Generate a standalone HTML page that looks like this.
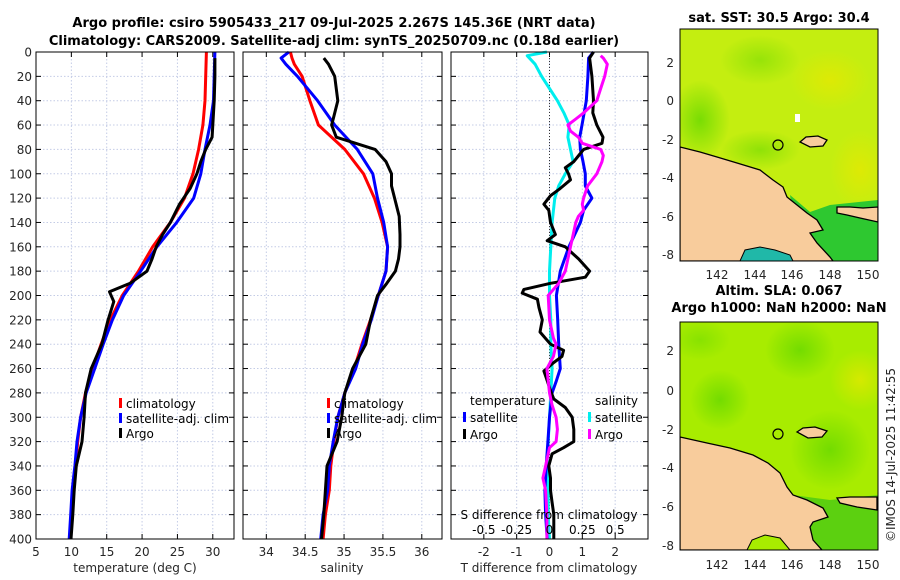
<!DOCTYPE html>
<html><head><meta charset="utf-8"><style>
body{margin:0;background:#fff;}
svg{display:block;font-family:"DejaVu Sans","Liberation Sans",sans-serif;}
.tk{font-size:12px;fill:#262626;}
.tt{font-size:13px;font-weight:bold;fill:#000;}
.lg{font-size:12px;fill:#000;}
</style></head><body>
<svg id="fig" width="900" height="580" viewBox="0 0 900 580">
<defs>
<clipPath id="c1"><rect x="680" y="29" width="198" height="232"/></clipPath>
<clipPath id="c2"><rect x="680" y="322" width="198" height="228"/></clipPath>
<radialGradient id="gA"><stop offset="0" stop-color="#66d800" stop-opacity="0.8"/><stop offset="1" stop-color="#66d800" stop-opacity="0"/></radialGradient>
<radialGradient id="gB"><stop offset="0" stop-color="#e8e800" stop-opacity="0.7"/><stop offset="1" stop-color="#e8e800" stop-opacity="0"/></radialGradient>
</defs>
<text class="tt" x="334" y="27" text-anchor="middle">Argo profile: csiro 5905433_217 09-Jul-2025 2.267S 145.36E (NRT data)</text>
<text class="tt" x="334" y="45" text-anchor="middle">Climatology: CARS2009. Satellite-adj clim: synTS_20250709.nc (0.18d earlier)</text>
<g id="p1"></g>
<g id="p2"></g>
<g id="p3"></g>

<!-- top map -->
<g>
<text class="tt" x="779" y="22" text-anchor="middle">sat. SST: 30.5 Argo: 30.4</text>
<g clip-path="url(#c1)">
<rect x="680" y="29" width="198" height="232" fill="#c4ee10"/>
<ellipse cx="700" cy="120" rx="30" ry="40" fill="url(#gA)"/>
<ellipse cx="760" cy="60" rx="40" ry="25" fill="url(#gA)" opacity="0.6"/>
<ellipse cx="830" cy="80" rx="40" ry="30" fill="url(#gB)"/>
<ellipse cx="860" cy="170" rx="30" ry="40" fill="url(#gB)"/>
<ellipse cx="760" cy="150" rx="40" ry="20" fill="url(#gA)" opacity="0.7"/>
<rect x="795" y="114" width="5" height="8" fill="#fff"/>
<polygon points="790,195 810,212 830,205 878,200 878,261 800,261" fill="#2ec830"/>
<polygon points="680,147 700,152 717,157 737,163 760,170 773,180 783,187 787,197 797,205 807,213 817,220 823,230 810,233 817,243 830,257 833,261 680,261" fill="#f8cc9c" stroke="#000" stroke-width="1.3"/>
<polygon points="740,261 745,250 760,247 775,250 790,255 793,261" fill="#20b8a8" stroke="#000" stroke-width="1"/>
<polygon points="837,207 850,207 863,208 878,207 878,222 860,218 847,215 837,213" fill="#f8cc9c" stroke="#000" stroke-width="1.3"/>
<polygon points="800,142 806,137 818,136 827,140 823,146 810,147" fill="#f8cc9c" stroke="#000" stroke-width="1.3"/>
<circle cx="778" cy="145" r="5" fill="none" stroke="#000" stroke-width="1.2"/>
</g>
<rect x="680" y="29" width="198" height="232" fill="none" stroke="#000" stroke-width="1"/>
<g class="tk" text-anchor="end">
<text x="674" y="67">2</text><text x="674" y="105">0</text><text x="674" y="144">-2</text><text x="674" y="182">-4</text><text x="674" y="221">-6</text><text x="674" y="259">-8</text></g>
<g class="tk" text-anchor="middle">
<text x="717" y="279">142</text><text x="755" y="279">144</text><text x="792" y="279">146</text><text x="830" y="279">148</text><text x="868" y="279">150</text></g>
</g>

<!-- bottom map -->
<g>
<text class="tt" x="779" y="295" text-anchor="middle">Altim. SLA: 0.067</text>
<text class="tt" x="779" y="312" text-anchor="middle">Argo h1000: NaN h2000: NaN</text>
<g clip-path="url(#c2)">
<rect x="680" y="322" width="198" height="228" fill="#a8ec00"/>
<ellipse cx="720" cy="400" rx="30" ry="30" fill="url(#gA)"/>
<ellipse cx="800" cy="350" rx="35" ry="30" fill="url(#gA)"/>
<ellipse cx="700" cy="340" rx="30" ry="20" fill="url(#gA)" opacity="0.6"/>
<ellipse cx="830" cy="450" rx="40" ry="40" fill="url(#gA)"/>
<ellipse cx="860" cy="380" rx="30" ry="30" fill="url(#gB)"/>
<polygon points="793,495 830,500 878,495 878,550 815,550" fill="#5cd010"/>
<polygon points="680,437 707,443 730,448 753,455 768,463 780,473 787,487 793,495 807,500 823,508 828,517 813,522 810,527 813,540 822,550 680,550" fill="#f8cc9c" stroke="#000" stroke-width="1.3"/>
<polygon points="747,550 752,540 765,535 780,538 790,550" fill="#a8ec00" stroke="#000" stroke-width="1"/>
<polygon points="837,498 850,497 877,497 877,510 857,507 840,503" fill="#f8cc9c" stroke="#000" stroke-width="1.3"/>
<polygon points="797,432 803,428 815,427 827,431 822,437 808,438" fill="#f8cc9c" stroke="#000" stroke-width="1.3"/>
<circle cx="778" cy="434" r="5" fill="none" stroke="#000" stroke-width="1.2"/>
</g>
<rect x="680" y="322" width="198" height="228" fill="none" stroke="#000" stroke-width="1"/>
<g class="tk" text-anchor="end">
<text x="674" y="355">2</text><text x="674" y="395">0</text><text x="674" y="434">-2</text><text x="674" y="472">-4</text><text x="674" y="511">-6</text><text x="674" y="550">-8</text></g>
<g class="tk" text-anchor="middle">
<text x="717" y="569">142</text><text x="755" y="569">144</text><text x="792" y="569">146</text><text x="830" y="569">148</text><text x="868" y="569">150</text></g>
</g>
<text class="tk" transform="translate(895,455) rotate(-90)" text-anchor="middle">©IMOS 14-Jul-2025 11:42:55</text>
</svg>
<script>
// ---- Panel 1: temperature ----
const tDepth=[0,20,40,60,80,100,120,140,160,180,200,220,240,260,280,300,320,340,360,380,400];
const tClim=[29.1,29.0,28.9,28.6,28.0,27.2,26.0,24.0,21.5,19.5,17.2,15.5,14.2,13.0,12.0,11.3,10.9,10.6,10.3,10.1,9.8];
const tSat=[30.3,30.2,30.1,29.6,28.9,28.3,27.3,24.9,22.1,19.8,17.4,15.8,14.5,13.3,12.1,11.3,10.8,10.5,10.1,9.9,9.7];
const aDepth=[5,20,40,60,70,80,90,100,112,125,140,150,160,170,180,190,197,205,220,240,260,280,300,320,340,360,380,400];
const aTemp=[30.3,30.3,30.2,30.0,29.9,29.0,28.3,27.75,26.8,25.3,24.0,22.9,22.0,21.4,20.7,18.3,15.4,16.0,15.2,14.3,12.8,12.0,11.8,11.5,10.7,10.4,10.2,9.95];
const tTicks=[5,10,15,20,25,30];
// ---- Panel 2: salinity ----
const sDepth=[0,5,10,20,40,60,80,100,120,140,160,180,200,220,240,260,280,300,320,340,360,380,400];
const sClim=[34.31,34.33,34.36,34.46,34.56,34.67,35.01,35.25,35.39,35.49,35.56,35.54,35.44,35.34,35.23,35.13,35.01,34.92,34.87,34.83,34.81,34.76,34.73];
const sSat=[34.29,34.19,34.25,34.40,34.66,34.88,35.17,35.37,35.43,35.51,35.56,35.54,35.44,35.35,35.24,35.15,35.01,34.92,34.86,34.81,34.79,34.73,34.70];
const aSDepth=[5,10,20,40,55,60,70,80,90,100,110,120,135,150,160,170,180,190,200,220,240,260,280,300,320,340,360,380,400];
const aSal=[34.74,34.80,34.88,34.92,34.86,34.84,34.90,35.40,35.54,35.61,35.61,35.65,35.71,35.72,35.72,35.70,35.66,35.55,35.43,35.34,35.28,35.11,35.01,34.97,34.91,34.78,34.76,34.74,34.71];
const sTicks=[34,34.5,35,35.5,36];
// ---- Panel 3: differences ----
const dTDepth=[0,5,20,40,60,70,80,90,100,110,120,130,140,160,180,200,220,240,260,270,280,300,320,340,360,380,400];
const dTSat=[1.34,1.19,1.17,1.12,0.99,0.92,0.94,1.02,1.09,1.09,1.29,1.04,0.94,0.59,0.33,0.21,0.25,0.28,0.33,0.21,0.08,0,-0.05,-0.1,-0.14,-0.12,-0.07];
const dSDepth=[0,3,10,20,30,40,50,60,70,80,90,100,110,120,140,160,180,200,220,240,260,280,300,320,340,360,380,400];
const dSSat=[-0.02,-0.17,-0.11,-0.06,0,0.06,0.11,0.15,0.14,0.16,0.18,0.12,0.07,0.04,0.02,0.01,0,0,0.01,0.01,0.02,0.01,0,-0.01,-0.02,-0.01,-0.01,0];
const dADepth=[0,5,20,40,50,60,70,75,80,85,90,95,100,105,112,118,125,130,140,150,155,160,170,180,185,190,195,198,203,210,220,230,240,245,250,255,262,270,278,285,292,300,310,320,325,330,340,350,360,370,380,400];
const dATemp=[1.34,1.22,1.29,1.34,1.32,1.44,1.63,1.60,1.04,0.89,0.74,0.48,0.58,0.64,0.33,0.03,-0.17,-0.02,0.03,0.18,-0.07,0.48,0.89,1.22,1.09,0.03,-0.78,-0.83,-0.37,-0.32,-0.22,-0.29,0.03,0.43,0.38,0.13,-0.17,-0.07,0.03,0.13,0.48,0.69,0.74,0.74,0.43,0.08,-0.02,0.03,0.03,0.08,0.13,0.13];
const dASDepth=[3,5,10,20,30,40,50,55,60,65,70,75,80,85,90,100,110,120,125,130,135,140,160,180,190,200,220,235,240,250,260,270,280,290,300,310,320,325,340,350,360,380,400];
const dASal=[0.39,0.41,0.44,0.42,0.39,0.36,0.26,0.20,0.14,0.16,0.22,0.25,0.39,0.41,0.40,0.36,0.29,0.26,0.25,0.26,0.22,0.20,0.16,0.12,0.07,-0.01,0,0.03,0.05,0.03,-0.02,-0.01,0,0.02,0.05,0.06,0.05,0,-0.03,-0.05,-0.03,-0.02,-0.02];
const dTTicks=[-2,-1,0,1,2];
const dSTicks=[-0.5,-0.25,0,0.25,0.5];
const dSTickLabels=["-0.5","-0.25","0","0.25","0.5"];
const depthTicks=[0,20,40,60,80,100,120,140,160,180,200,220,240,260,280,300,320,340,360,380,400];

const NS='http://www.w3.org/2000/svg';
const Y0=52,Y1=539;
function yS(d){return Y0+(d/400)*(Y1-Y0);}
function mk(tag,attrs,parent){const e=document.createElementNS(NS,tag);for(const k in attrs)e.setAttribute(k,attrs[k]);parent.appendChild(e);return e;}
function txt(parent,x,y,s,cls,anchor){const t=mk('text',{x:x,y:y,'class':cls,'text-anchor':anchor||'middle'},parent);t.textContent=s;return t;}

function frame(g,x0,x1,xs,xticks,xlabels,showY){
  xticks.forEach(v=>{const x=xs(v);
    const l=mk('line',{x1:x,x2:x,y1:Y0,y2:Y1,stroke:'#c4cce6','stroke-width':1,'stroke-dasharray':'1.5,2'},g);
    
    
    mk('line',{x1:x,x2:x,y1:Y1,y2:Y1-5,stroke:'#000'},g);
    mk('line',{x1:x,x2:x,y1:Y0,y2:Y0+5,stroke:'#000'},g);});
  depthTicks.forEach(d=>{const y=yS(d);
    if(d>0&&d<400){const l=mk('line',{x1:x0,x2:x1,y1:y,y2:y,stroke:'#c4cce6','stroke-width':1,'stroke-dasharray':'1.5,2'},g);
    
    }
    mk('line',{x1:x0,x2:x0+5,y1:y,y2:y,stroke:'#000'},g);
    mk('line',{x1:x1,x2:x1-5,y1:y,y2:y,stroke:'#000'},g);
    if(showY){const t=txt(g,x0-4,y+4.5,String(d),'tk','end');
      
      }
  });
  if(xlabels){xticks.forEach((v,i)=>{const t=txt(g,xs(v),Y1+17,xlabels[i],'tk');
    
    });}
}
function box(g,x0,x1){mk('rect',{x:x0,y:Y0,width:x1-x0,height:Y1-Y0,fill:'none',stroke:'#000','stroke-width':1},g);}
function line(g,xs,vals,depths,color,name,w){
  const pts=vals.map((v,i)=>xs(v).toFixed(1)+','+yS(depths[i]).toFixed(1)).join(' ');
  const p=mk('polyline',{points:pts,fill:'none',stroke:color,'stroke-width':w||3,'stroke-linejoin':'round'},g);
  
  
}
function legItem(g,x,y,color,label,name){
  mk('rect',{x:x,y:y-10,width:3,height:10,fill:color},g);
  const t=txt(g,x+7,y,label,'lg','start');
  
  
}

// Panel 1
const g1=document.getElementById('p1');
const P1=[36,234];const xT=v=>P1[0]+(v-5)/(33-5)*(P1[1]-P1[0]);
frame(g1,P1[0],P1[1],xT,tTicks,tTicks.map(String),true);
line(g1,xT,tClim,tDepth,'#ff0000','temp-climatology-line');
line(g1,xT,tSat,tDepth,'#0000ff','temp-satellite-line');
line(g1,xT,aTemp,aDepth,'#000','temp-argo-line');
box(g1,P1[0],P1[1]);
legItem(g1,119,408,'#ff0000','climatology','legend-climatology');
legItem(g1,119,423,'#0000ff','satellite-adj. clim','legend-satellite');
legItem(g1,119,438,'#000','Argo','legend-argo');
let t1=txt(g1,135,572,'temperature (deg C)','tk');

// Panel 2
const g2=document.getElementById('p2');
const P2=[243,442];const xS=v=>P2[0]+(v-33.7)/(36.26-33.7)*(P2[1]-P2[0]);
frame(g2,P2[0],P2[1],xS,sTicks,sTicks.map(String),false);
line(g2,xS,sClim,sDepth,'#ff0000','sal-climatology-line');
line(g2,xS,sSat,sDepth,'#0000ff','sal-satellite-line');
line(g2,xS,aSal,aSDepth,'#000','sal-argo-line');
box(g2,P2[0],P2[1]);
legItem(g2,327,408,'#ff0000','climatology','legend-climatology');
legItem(g2,327,423,'#0000ff','satellite-adj. clim','legend-satellite');
legItem(g2,327,438,'#000','Argo','legend-argo');
let t2=txt(g2,342,572,'salinity','tk');

// Panel 3
const g3=document.getElementById('p3');
const P3=[451,648];const xD=v=>P3[0]+(v+3)/6*(P3[1]-P3[0]);const xDS=v=>xD(v*4);
frame(g3,P3[0],P3[1],xD,dTTicks,dTTicks.map(String),false);
mk('line',{x1:xD(0),x2:xD(0),y1:Y0,y2:Y1,stroke:'#333','stroke-width':1,'stroke-dasharray':'1,2'},g3);
line(g3,xDS,dSSat,dSDepth,'#00eeee','sdiff-satellite-line');
line(g3,xD,dTSat,dTDepth,'#0000ff','tdiff-satellite-line');
line(g3,xD,dATemp,dADepth,'#000','tdiff-argo-line');
line(g3,xDS,dASal,dASDepth,'#ff00ff','sdiff-argo-line');
box(g3,P3[0],P3[1]);
let lt=txt(g3,470,405,'temperature','lg','start');
let ls=txt(g3,595,405,'salinity','lg','start');
legItem(g3,463,422,'#0000ff','satellite','legend-tdiff-satellite');
legItem(g3,463,439,'#000','Argo','legend-tdiff-argo');
legItem(g3,588,422,'#00eeee','satellite','legend-sdiff-satellite');
legItem(g3,588,439,'#ff00ff','Argo','legend-sdiff-argo');
let st=txt(g3,549,519,'S difference from climatology','lg');
dSTicks.forEach((v,i)=>{const t=txt(g3,xDS(v),534,dSTickLabels[i],'lg');
  
  });
let tt=txt(g3,549,572,'T difference from climatology','tk');
</script>
</body></html>
